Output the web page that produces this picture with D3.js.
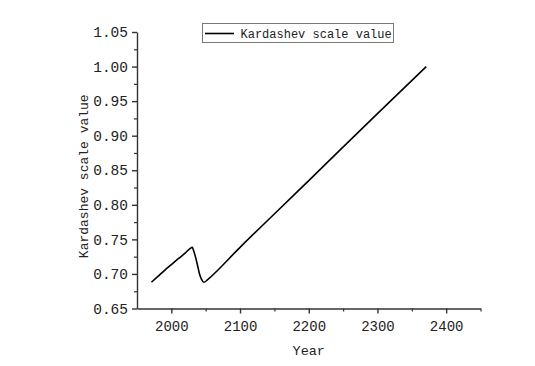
<!DOCTYPE html>
<html>
<head>
<meta charset="utf-8">
<script src="https://cdn.jsdelivr.net/npm/d3@7"></script>
<style>
  html, body { margin: 0; padding: 0; background: #fff; }
  svg { display: block; }
  text { font-family: "Liberation Mono", "DejaVu Sans Mono", monospace; fill: #222; }
</style>
</head>
<body>
<svg id="chart" width="535" height="366"></svg>
<script>
const years  = [1971, 1980, 1991, 2000, 2010, 2020, 2029, 2030.5, 2032, 2035, 2038, 2041, 2044, 2047, 2049, 2052, 2100, 2200, 2300, 2371];
const values = [0.688, 0.696, 0.706, 0.7135, 0.722, 0.730, 0.738, 0.7385, 0.735, 0.725, 0.713, 0.700, 0.692, 0.688, 0.6885, 0.691, 0.7385, 0.835, 0.932, 1.000];
const seriesName = "Kardashev scale value";
const xMajorTicks = [2000, 2100, 2200, 2300, 2400];
const xMinorTicks = [2050, 2150, 2250, 2350, 2450];
const yMajorTicks = [0.65, 0.70, 0.75, 0.80, 0.85, 0.90, 0.95, 1.00, 1.05];
const yMinorTicks = [0.675, 0.725, 0.775, 0.825, 0.875, 0.925, 0.975, 1.025];
const xTitle = "Year";
const yTitle = "Kardashev scale value";

(function () {
const svg = d3.select("#chart");
const mLeft = 137, mRight = 480.5, mTop = 32, mBottom = 308.5;
const x = d3.scaleLinear().domain([1950, 2450]).range([mLeft, mRight]);
const y = d3.scaleLinear().domain([0.65, 1.05]).range([mBottom, mTop]);

const axisColor = "#333";

// minor ticks
const gxMinor = svg.append("g").attr("transform", `translate(0,${mBottom})`)
  .call(d3.axisBottom(x).tickValues(xMinorTicks).tickSize(3).tickFormat(""));
const gyMinor = svg.append("g").attr("transform", `translate(${mLeft},0)`)
  .call(d3.axisLeft(y).tickValues(yMinorTicks).tickSize(3).tickFormat(""));
[gxMinor, gyMinor].forEach(g => {
  g.select(".domain").remove();
  g.selectAll("line").attr("stroke", axisColor).attr("stroke-width", 1.2);
});

// major axes
const gx = svg.append("g").attr("transform", `translate(0,${mBottom})`)
  .call(d3.axisBottom(x).tickValues(xMajorTicks).tickSize(5).tickSizeOuter(0).tickPadding(8).tickFormat(d3.format("d")));
const gy = svg.append("g").attr("transform", `translate(${mLeft},0)`)
  .call(d3.axisLeft(y).tickValues(yMajorTicks).tickSize(5).tickSizeOuter(0).tickPadding(4).tickFormat(d3.format(".2f")));
[gx, gy].forEach(g => {
  g.select(".domain").attr("stroke", axisColor).attr("stroke-width", 1.4);
  g.selectAll("line").attr("stroke", axisColor).attr("stroke-width", 1.4);
  g.selectAll("text").style("font-family", '"Liberation Mono", monospace').attr("fill", "#222");
});
gx.selectAll("text").attr("font-size", 14);
gy.selectAll("text").attr("font-size", 14.5);

// line
const data = years.map((yr, i) => ({ yr, v: values[i] }));
svg.append("path")
  .datum(data)
  .attr("fill", "none")
  .attr("stroke", "#000")
  .attr("stroke-width", 1.6)
  .attr("stroke-linejoin", "round")
  .attr("d", d3.line().x(d => x(d.yr)).y(d => y(d.v)).curve(d3.curveMonotoneX));

// axis titles
svg.append("text")
  .attr("x", (mLeft + mRight) / 2)
  .attr("y", 355)
  .attr("text-anchor", "middle")
  .attr("font-size", 13.5)
  .text(xTitle);
svg.append("text")
  .attr("transform", `translate(88,${(mTop + mBottom) / 2 + 6}) rotate(-90)`)
  .attr("text-anchor", "middle")
  .attr("font-size", 13)
  .text(yTitle);

// legend
const lg = svg.append("g");
lg.append("rect")
  .attr("x", 202.5).attr("y", 23.5).attr("width", 191).attr("height", 19)
  .attr("fill", "#fff").attr("stroke", "#777").attr("stroke-width", 1);
lg.append("line")
  .attr("x1", 205).attr("x2", 234).attr("y1", 33.5).attr("y2", 33.5)
  .attr("stroke", "#000").attr("stroke-width", 1.6);
lg.append("text")
  .attr("x", 240.5).attr("y", 37.5)
  .attr("font-size", 12)
  .text(seriesName);
})();
</script>
</body>
</html>
